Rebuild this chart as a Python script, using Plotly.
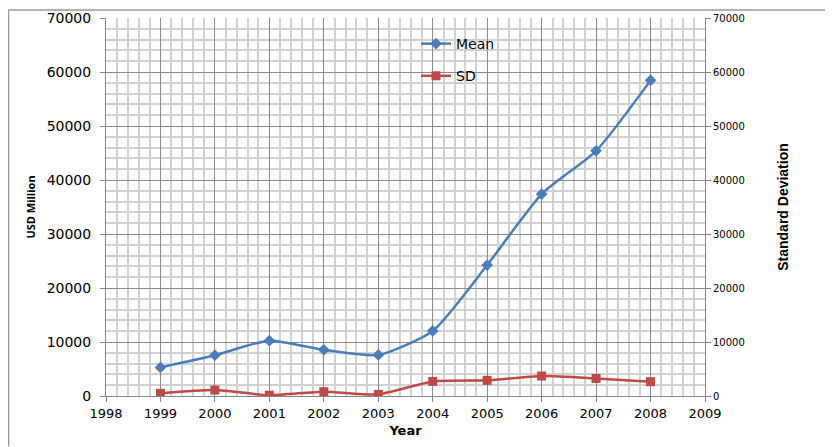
import plotly.graph_objects as go

years = [1999, 2000, 2001, 2002, 2003, 2004, 2005, 2006, 2007, 2008]
mean_vals = [5300, 7550, 10250, 8550, 7600, 12050, 24250, 37400, 45400, 58450]
sd_vals = [500, 1100, 150, 800, 300, 2700, 2900, 3700, 3250, 2650]

# page body has an 8px margin; figure sized so plot area lands at x 106..705, y 18..396 on screen
W, H = 825, 439
L, R, T, B = 98, 128, 10, 51
pw = W - L - R
ph = H - T - B

def sx(x):
    return (x - 106) / pw

def sy(y):
    return (396 - y) / ph

fig = go.Figure()
fig.add_trace(go.Scatter(
    x=years, y=mean_vals, name="Mean", mode="lines+markers",
    line=dict(color="#4a7ebb", width=2.5, shape="spline", smoothing=0.6),
    marker=dict(symbol="diamond", size=9, color="#4a7ebb"),
    legendgroup="a"))
fig.add_trace(go.Scatter(
    x=years, y=sd_vals, name="SD", mode="lines+markers", yaxis="y2",
    line=dict(color="#be4b48", width=2.5, shape="spline", smoothing=0.6),
    marker=dict(symbol="square", size=9, color="#be4b48"),
    legendgroup="b"))

grid_major = "#8c8c8c"
grid_minor = "#d2d2d2"
font_main = "DejaVu Sans"

fig.update_layout(
    width=W, height=H,
    margin=dict(l=L, r=R, t=T, b=B, autoexpand=False),
    paper_bgcolor="white", plot_bgcolor="white",
    showlegend=True,
    legend=dict(x=sx(416), y=sy(28), xanchor="left", yanchor="top",
                bgcolor="rgba(0,0,0,0)", font=dict(family=font_main, size=14, color="#000"),
                traceorder="grouped", tracegroupgap=11, itemwidth=30),
    xaxis=dict(range=[1998, 2009], dtick=1, tick0=1998, showgrid=True,
               gridcolor=grid_major, gridwidth=1,
               minor=dict(dtick=0.2, showgrid=True, gridcolor=grid_minor, gridwidth=1.5),
               ticks="outside", ticklen=5, tickcolor="#868686",
               showline=True, linecolor="#868686", linewidth=1,
               zeroline=False, mirror=False,
               tickfont=dict(family=font_main, size=13, color="#000"),
               title=dict(text="<b>Year</b>", font=dict(family=font_main, size=13, color="#000"), standoff=6)),
    yaxis=dict(range=[0, 70000], dtick=10000, tickformat="d", showgrid=True,
               gridcolor=grid_major, gridwidth=1,
               minor=dict(dtick=2000, showgrid=True, gridcolor=grid_minor, gridwidth=1.5),
               ticks="outside", ticklen=5, tickcolor="#868686",
               showline=True, linecolor="#868686", linewidth=1, zeroline=False,
               ticklabelstandoff=6,
               tickfont=dict(family=font_main, size=14, color="#000"),
               title=dict(text="<b>USD Million</b>", font=dict(family="Open Sans", size=11, color="#000"), standoff=8)),
    yaxis2=dict(range=[0, 70000], dtick=10000, tickformat="d", overlaying="y", side="right",
                showgrid=False, zeroline=False,
                ticks="outside", ticklen=5, tickcolor="#868686",
                showline=True, linecolor="#868686", linewidth=1,
                tickfont=dict(family=font_main, size=10, color="#000"),
                title=dict(text="<b>Standard Deviation</b>", font=dict(family="Liberation Sans Narrow, Liberation Sans", size=14, color="#000"), standoff=34)),
    shapes=[
        dict(type="line", xref="paper", yref="paper", x0=sx(8.5), x1=sx(8 + W - 1), y0=sy(10), y1=sy(10),
             line=dict(color="#999999", width=1.5)),
        dict(type="line", xref="paper", yref="paper", x0=sx(8.5), x1=sx(8.5), y0=sy(10), y1=sy(8 + H - 1),
             line=dict(color="#999999", width=1.5)),
    ],
)

fig.write_html("out.html")
